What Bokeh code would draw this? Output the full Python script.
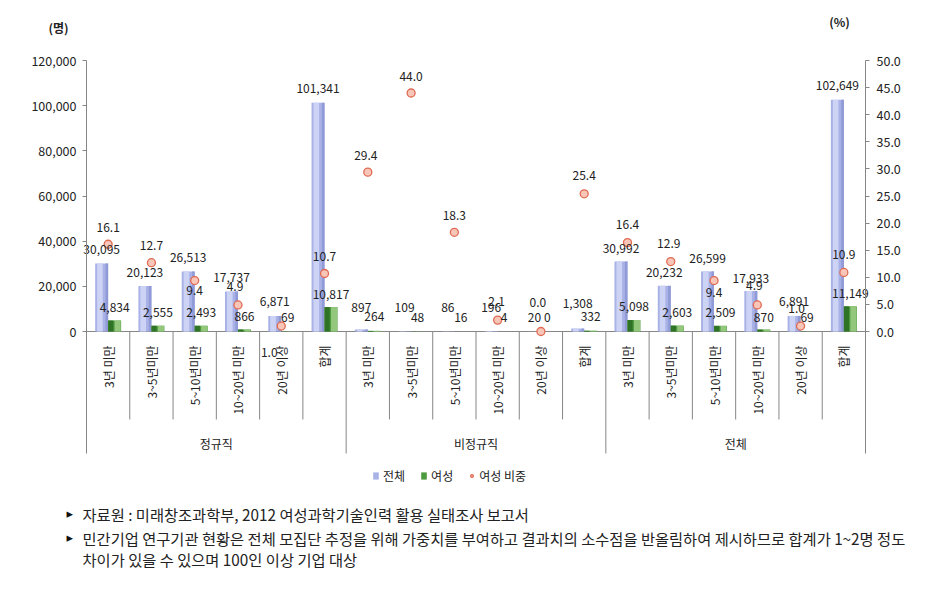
import math
from bokeh.plotting import figure
from bokeh.models import (Range1d, LinearAxis, FixedTicker, NumeralTickFormatter,
                          Legend, LegendItem, ColumnDataSource)
from bokeh.core.properties import value
from bokeh.embed import file_html
from bokeh.resources import INLINE

# ---------------- data ----------------
groups = ["정규직", "비정규직", "전체"]
periods = ["3년 미만", "3~5년미만", "5~10년미만", "10~20년 미만", "20년 이상", "합계"]

reg_total = [30095, 20123, 26513, 17737, 6871, 101341]
reg_women = [4834, 2555, 2493, 866, 69, 10817]
reg_share = [16.1, 12.7, 9.4, 4.9, 1.0, 10.7]

irr_total = [897, 109, 86, 196, 20, 1308]
irr_women = [264, 48, 16, 4, 0, 332]
irr_share = [29.4, 44.0, 18.3, 2.1, 0.0, 25.4]

all_total = [30992, 20232, 26599, 17933, 6891, 102649]
all_women = [5098, 2603, 2509, 870, 69, 11149]
all_share = [16.4, 12.9, 9.4, 4.9, 1.0, 10.9]

count_ticks = [0, 20000, 40000, 60000, 80000, 100000, 120000]
share_ticks = [0, 5, 10, 15, 20, 25, 30, 35, 40, 45, 50]

legend_labels = ["전체", "여성", "여성 비중"]
unit_left = "(명)"
unit_right = "(%)"
notes = [
    "자료원 : 미래창조과학부, 2012 여성과학기술인력 활용 실태조사 보고서",
    "민간기업 연구기관 현황은 전체 모집단 추정을 위해 가중치를 부여하고 결과치의 소수점을 반올림하여 제시하므로 합계가 1~2명 정도",
    "차이가 있을 수 있으며 100인 이상 기업 대상",
]

# ---------------- label placement (style, pixels) ----------------
total_dy = [-14, -14, -14, -14, -14, -14,
            -22, -24, -24, -24, -14, -25,
            -13, -13, -13, -13, -14, -14]
women_dy = [-13, -13, -13, -13, -14, -13,
            -14, -14, -14, -14, -14, -14,
            -13, -13, -13, -12, -14, -13]
share_dx = [0, 0, 0, -3, -12, 0,
            -2, 0, 0, -1, -3, 0,
            0, -2, 0, -3, -4, 0]
share_dy = [-17, -17, 10, -18, 26, -17,
            -17, -17, -17, -19, -29, -18,
            -18, -18, 12, -19, -18, -18]

# ---------------- geometry (page pixels) ----------------
W, H = 915, 585
LEFT_X, RIGHT_X = 86, 865        # plot area left / right
TOP_Y, ZERO_Y, BOT_Y = 60, 331, 453
NCAT = len(groups) * len(periods)
PXX = (RIGHT_X - LEFT_X) / NCAT
PXY = count_ticks[-1] / (ZERO_Y - TOP_Y)
PXP = share_ticks[-1] / (ZERO_Y - TOP_Y)


def dx(page_x):
    return (page_x - LEFT_X) / PXX


def dy(page_y):
    return (ZERO_Y - page_y) * PXY


def dp(page_y):
    return (ZERO_Y - page_y) * PXP


FONT = value("Noto Sans CJK KR")
TXT = "#222222"
AX = "#868686"

p = figure(width=W, height=H,
           x_range=Range1d(dx(0), dx(W)), y_range=Range1d(dy(H), dy(0)),
           output_backend="svg", toolbar_location=None,
           x_axis_location=None, y_axis_location=None,
           min_border_left=0, min_border_right=0, min_border_top=0, min_border_bottom=0)
p.outline_line_color = None
p.xgrid.visible = False
p.ygrid.visible = False
p.background_fill_color = "white"
p.border_fill_color = "white"
p.extra_y_ranges = {"pct": Range1d(dp(H), dp(0))}

left = LinearAxis(ticker=FixedTicker(ticks=count_ticks), formatter=NumeralTickFormatter(format="0,0"),
                  fixed_location=0, bounds=(dy(BOT_Y), count_ticks[-1]))
right = LinearAxis(y_range_name="pct", ticker=FixedTicker(ticks=share_ticks),
                   formatter=NumeralTickFormatter(format="0.0"),
                   fixed_location=NCAT, bounds=(dp(BOT_Y), share_ticks[-1]))
for ax in (left, right):
    ax.axis_line_color = AX
    ax.major_tick_line_color = AX
    ax.major_tick_out = 4
    ax.major_tick_in = 0
    ax.minor_tick_line_color = None
    ax.major_label_text_font = "Noto Sans CJK KR"
    ax.major_label_text_font_size = "12.5px"
    ax.major_label_text_color = TXT
left.major_label_standoff = 6
right.major_label_standoff = 7
p.add_layout(left, "left")
p.add_layout(right, "right")

# category axis line and separators
sx0, sx1, sy0, sy1 = [0], [NCAT], [0], [0]
for k in range(1, NCAT):
    sx0.append(k); sx1.append(k); sy0.append(0)
    sy1.append(dy(BOT_Y) if k % len(periods) == 0 else dy(419))
p.segment(x0=sx0, y0=sy0, x1=sx1, y1=sy1, line_color=AX, line_width=1)

# data assembly
totals = reg_total + irr_total + all_total
women = reg_women + irr_women + all_women
shares = reg_share + irr_share + all_share
centers = [i + 0.5 for i in range(NCAT)]
BO = 0.15
BW = 0.3

src = ColumnDataSource(dict(
    xc=centers,
    xb=[c - BO for c in centers],
    xg=[c + BO for c in centers],
    xb_hi=[c - BO - 0.04 for c in centers],
    xb_dk=[c - BO + 0.12 for c in centers],
    xg_dk=[c + BO - 0.09 for c in centers],
    xg_hi=[c + BO + 0.07 for c in centers],
    total=totals, women=women, share=shares,
    tlab=[f"{v:,}" for v in totals],
    wlab=[f"{v:,}" for v in women],
    slab=[f"{v:.1f}" for v in shares],
    tdy=total_dy, wdy=women_dy, sdx=share_dx, sdy=share_dy,
))

# blue bars (pseudo gradient)
blue = p.vbar(x="xb", top="total", width=BW, bottom=0, source=src,
              fill_color="#A9B2E6", line_color=None)
p.vbar(x="xb_hi", top="total", width=0.13, source=src, fill_color="#CDD3F5", line_color=None)
p.vbar(x="xb_dk", top="total", width=0.06, source=src, fill_color="#8F9AD6", line_color=None)

# green bars (pseudo gradient)
green = p.vbar(x="xg", top="women", width=BW, bottom=0, source=src,
               fill_color="#4E9A3E", line_color=None)
p.vbar(x="xg_dk", top="women", width=0.12, source=src, fill_color="#2F7426", line_color=None)
p.vbar(x="xg_hi", top="women", width=0.14, source=src, fill_color="#93C87C", line_color=None)

# share markers
dots = p.scatter(x="xc", y="share", y_range_name="pct", source=src, size=8,
                 fill_color="#F7C6B8", line_color="#E06A52", line_width=1.3)

p.text(x="xb", y="total", text="tlab", source=src, y_offset="tdy",
       text_align="center", text_baseline="middle", text_font=FONT,
       text_font_size="12px", text_color=TXT)
p.text(x="xg", y="women", text="wlab", source=src, y_offset="wdy",
       text_align="center", text_baseline="middle", text_font=FONT,
       text_font_size="12px", text_color=TXT)
p.text(x="xc", y="share", text="slab", source=src, x_offset="sdx", y_offset="sdy",
       y_range_name="pct", text_align="center", text_baseline="middle", text_font=FONT,
       text_font_size="12px", text_color=TXT)

# category labels (rotated)
cat_text = periods * len(groups)
p.text(x=centers, y=[0] * NCAT, text=cat_text, angle=math.pi / 2, y_offset=14,
       text_align="right", text_baseline="middle", text_font=FONT,
       text_font_size="12px", text_color=TXT)

# group labels
gcent = [len(periods) * g + len(periods) / 2 for g in range(len(groups))]
p.text(x=gcent, y=[dy(443)] * len(groups), text=groups,
       text_align="center", text_baseline="middle", text_font=FONT,
       text_font_size="12px", text_color=TXT)

# units
p.text(x=[dx(58), dx(839)], y=[dy(27), dy(21)], text=[unit_left, unit_right],
       text_align="center", text_baseline="middle", text_font=FONT,
       text_font_size="12px", text_font_style="bold", text_color=TXT)

# legend
legend = Legend(items=[LegendItem(label=legend_labels[0], renderers=[blue]),
                       LegendItem(label=legend_labels[1], renderers=[green]),
                       LegendItem(label=legend_labels[2], renderers=[dots])],
                orientation="horizontal", location=(372, H - 484),
                border_line_color=None, background_fill_alpha=0,
                label_text_font="Noto Sans CJK KR", label_text_font_size="12px",
                label_text_color=TXT, glyph_width=7, glyph_height=9,
                label_standoff=4, spacing=15, padding=2, margin=0)
p.add_layout(legend)

# footnotes
note_y = [513, 537, 558]
p.text(x=[dx(66)] * 2, y=[dy(note_y[0]), dy(note_y[1])], text=["▸", "▸"],
       text_align="left", text_baseline="middle", text_font=value("DejaVu Sans"),
       text_font_size="13px", text_color="#111111")
p.text(x=[dx(82)] * 3, y=[dy(v) for v in note_y], text=notes,
       text_align="left", text_baseline="middle", text_font=FONT,
       text_font_size="15.3px", text_color=TXT)

open("out.html", "w").write(file_html(p, INLINE))
